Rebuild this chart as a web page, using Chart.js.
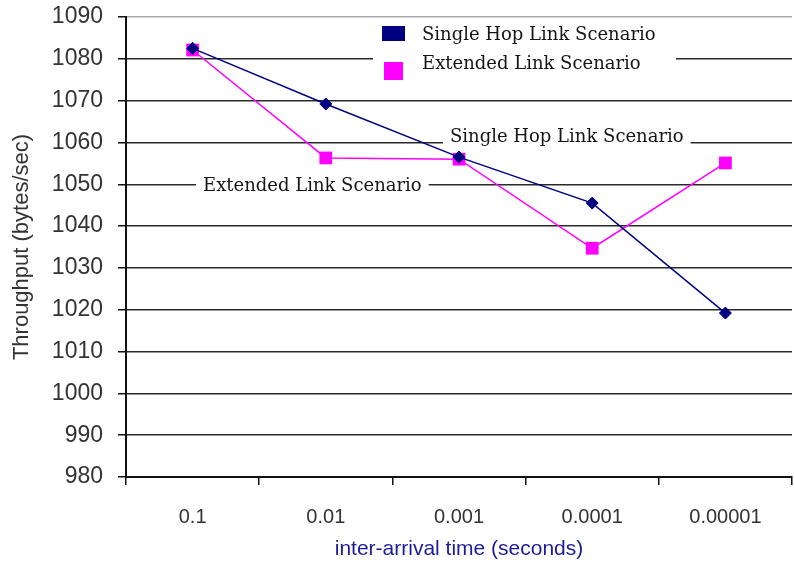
<!DOCTYPE html>
<html>
<head>
<meta charset="utf-8">
<script src="https://cdn.jsdelivr.net/npm/chart.js@4.4.1/dist/chart.umd.min.js"></script>
<style>
  html, body { margin: 0; padding: 0; background: #fff; }
</style>
</head>
<body>
<canvas id="myChart" width="794" height="566"></canvas>
<script>
//DATA:
const arrivalTimes = ['0.1', '0.01', '0.001', '0.0001', '0.00001'];
const singleHopThroughput = [1082.5, 1069.2, 1056.5, 1045.5, 1019.2];
const extendedThroughput = [1082.1, 1056.3, 1056.0, 1034.7, 1055.1];
const seriesNames = ['Single Hop Link Scenario', 'Extended Link Scenario'];
const yTicks = [980, 990, 1000, 1010, 1020, 1030, 1040, 1050, 1060, 1070, 1080, 1090];

const navy = '#000080';
const magenta = '#ff00ff';
const serifFont = '18px "DejaVu Serif", "Liberation Serif", serif';
const sansFamily = '"Liberation Sans", Arial, sans-serif';

// white boxed text, like the Excel labels sitting on the gridlines
function boxedText(ctx, text, x, y) {
  ctx.font = serifFont;
  const w = ctx.measureText(text).width;
  ctx.fillStyle = '#fff';
  ctx.fillRect(x - 7, y - 11, w + 14, 22);
  ctx.fillStyle = '#151515';
  ctx.textBaseline = 'middle';
  ctx.textAlign = 'left';
  ctx.fillText(text, x, y);
}

const seriesLabels = {
  id: 'seriesLabels',
  beforeDatasetsDraw(chart) {
    const ctx = chart.ctx;
    const sets = chart.data.datasets;
    ctx.save();
    // legend box
    ctx.fillStyle = '#fff';
    ctx.fillRect(373, 19, 303, 64);
    ctx.fillStyle = sets[0].borderColor;
    ctx.fillRect(382, 26, 23, 15);
    ctx.fillStyle = sets[1].borderColor;
    ctx.fillRect(384, 62, 19, 18);
    ctx.font = serifFont;
    ctx.fillStyle = '#151515';
    ctx.textBaseline = 'middle';
    ctx.fillText(sets[0].label, 422, 35);
    ctx.fillText(sets[1].label, 422, 64);
    // labels on the lines
    boxedText(ctx, sets[0].label, 450, 137);
    boxedText(ctx, sets[1].label, 203, 186);
    ctx.restore();
  }
};

const chartLayout = document.getElementById('myChart');

const myChart = new Chart(chartLayout, {
  type: 'line',
  data: {
    labels: arrivalTimes,
    datasets: [{
      label: seriesNames[0],
      data: singleHopThroughput,
      borderColor: navy,
      backgroundColor: navy,
      borderWidth: 1.5,
      pointStyle: 'rectRot',
      pointRadius: 6,
      pointHoverRadius: 6,
      pointBorderWidth: 1,
      tension: 0
    },
    {
      label: seriesNames[1],
      data: extendedThroughput,
      borderColor: magenta,
      backgroundColor: magenta,
      borderWidth: 1.5,
      pointStyle: 'rect',
      pointRadius: 9,
      pointHoverRadius: 9,
      pointBorderWidth: 0,
      tension: 0
    }]
  },
  options: {
    responsive: false,
    animation: false,
    layout: { autoPadding: false, padding: { top: 17, right: 2, left: 0, bottom: 0 } },
    plugins: {
      legend: { display: false },
      tooltip: { enabled: false }
    },
    scales: {
      x: {
        offset: true,
        grid: {
          offset: true,
          drawOnChartArea: true,
          color: (c) => c.index === arrivalTimes.length ? '#999' : 'rgba(0,0,0,0)',
          tickColor: '#111',
          tickLength: 8,
          lineWidth: 1.5
        },
        border: { color: '#111', width: 2 },
        ticks: {
          color: '#333',
          padding: 20,
          font: { family: sansFamily, size: 20 }
        },
        title: {
          display: true,
          text: 'inter-arrival time (seconds)',
          color: '#1c1c96',
          padding: { top: 0, bottom: 4 },
          font: { family: sansFamily, size: 21 }
        },
        afterFit: (scale) => {
          scale.height = 89;
          scale.paddingLeft = 0;
          scale.paddingRight = 0;
        }
      },
      y: {
        min: yTicks[0],
        max: yTicks[yTicks.length - 1],
        afterBuildTicks: (scale) => { scale.ticks = yTicks.map(v => ({ value: v })); },
        grid: {
          color: (c) => c.tick && c.tick.value === yTicks[yTicks.length - 1] ? '#aaa' : '#2a2a2a',
          tickColor: '#111',
          tickLength: 8,
          lineWidth: 1.5
        },
        border: { color: '#111', width: 2 },
        ticks: {
          color: '#333',
          padding: 15,
          callback: (value) => String(value),
          font: { family: sansFamily, size: 23 }
        },
        title: {
          display: true,
          text: 'Throughput (bytes/sec)',
          color: '#333',
          padding: { top: 9, bottom: 0 },
          font: { family: sansFamily, size: 22 }
        },
        afterFit: (scale) => {
          scale.width = 126;
          scale.paddingTop = 0;
          scale.paddingBottom = 0;
        }
      }
    }
  },
  plugins: [seriesLabels]
});
</script>
</body>
</html>
